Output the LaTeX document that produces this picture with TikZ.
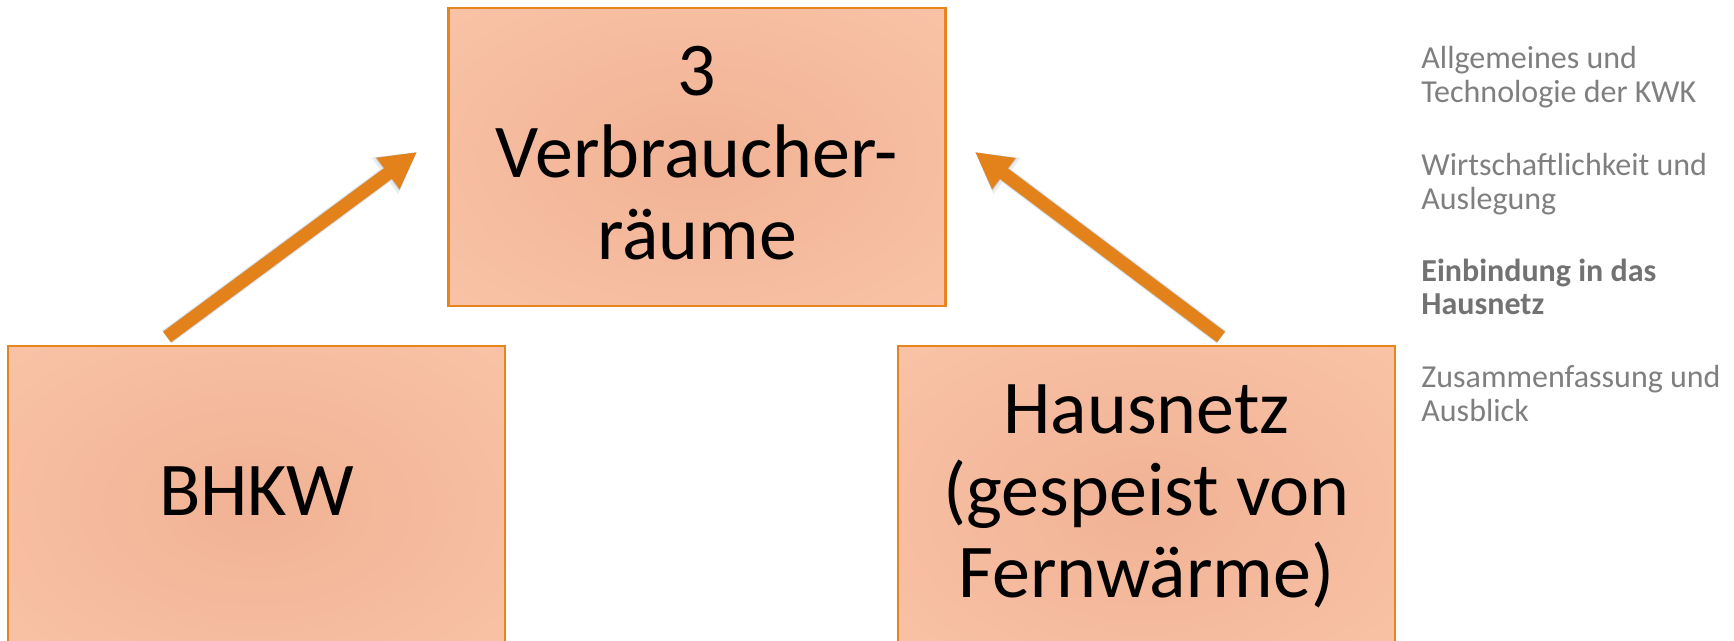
\documentclass[tikz,border=0pt]{standalone}
\usepackage{fontspec}
\setmainfont{Carlito}
\usetikzlibrary{arrows.meta}

\definecolor{boxedge}{HTML}{E6841F}
\definecolor{boxin}{HTML}{F1B294}
\definecolor{boxout}{HTML}{FAC5A9}
\definecolor{arrowc}{HTML}{E3821A}
\definecolor{navgray}{HTML}{7F7F7F}

% soft glow from the centre of a box towards its rim
\pgfdeclareradialshading{boxglow}{\pgfpoint{0bp}{0bp}}{%
  color(0bp)=(boxin); color(40bp)=(boxout); color(80bp)=(boxout)}

\begin{document}
\begin{tikzpicture}[x=0.5pt,y=-0.5pt,
  box/.style={draw=boxedge, line width=1.25pt, shading=boxglow,
              inner sep=0pt, minimum width=248.5pt},
  bigtext/.style={font=\fontsize{38pt}{41pt}\selectfont, align=center, inner sep=0pt,
                  text=black, anchor=base},
  navtext/.style={font=\fontsize{16pt}{17pt}\selectfont, align=left, text=navgray,
                  inner sep=0pt, anchor=base west},
  flow/.style={draw=arrowc, line width=6.5pt, -{Triangle[length=18pt,width=18pt]}},
  flowshade/.style={draw=black, line width=7pt, -{Triangle[length=18.5pt,width=19pt]}}
]
\useasboundingbox (0,0) rectangle (1734,641);
\clip (0,0) rectangle (1734,641);

% boxes
\node[box, minimum height=149pt] (cons) at (697,157) {};
\node[box, minimum height=160pt, anchor=north] (bhkw) at (256.5,345) {};
\node[box, minimum height=160pt, anchor=north] (netz) at (1146.5,345) {};

% box labels (placed by the baseline of their last line)
\node[bigtext] (consT) at (697,260) {3\\Verbraucher-\\räume};
\node[bigtext] (bhkwT) at (256.5,515) {BHKW};
\node[bigtext] (netzT) at (1146.5,597) {Hausnetz\\(gespeist von\\Fernwärme)};

% arrow end points
\coordinate (a1s) at (167,337);
\coordinate (a1e) at (417,152);
\coordinate (a2s) at (1221,337);
\coordinate (a2e) at (975,152);

% soft drop shadows of the arrows
\begin{scope}[transparency group, opacity=0.08, shift={(5,5)}]
  \draw[flowshade, line width=8pt, -{Triangle[length=20pt,width=21pt]}] (a1s) -- (a1e);
  \draw[flowshade, line width=8pt, -{Triangle[length=20pt,width=21pt]}] (a2s) -- (a2e);
\end{scope}
\begin{scope}[transparency group, opacity=0.18, shift={(3.5,3.5)}]
  \draw[flowshade] (a1s) -- (a1e);
  \draw[flowshade] (a2s) -- (a2e);
\end{scope}

% arrows
\draw[flow] (a1s) -- (a1e);
\draw[flow] (a2s) -- (a2e);

% navigation column
\node[navtext] (nav1) at (1421,103) {Allgemeines und\\Technologie der KWK};
\node[navtext] (nav2) at (1421,210) {Wirtschaftlichkeit und\\Auslegung};
\node[navtext, font=\fontsize{16pt}{17pt}\selectfont\bfseries, text=navgray!90!black] (nav3) at (1421,315) {Einbindung in das\\Hausnetz};
\node[navtext] (nav4) at (1421,422) {Zusammenfassung und\\Ausblick};
\end{tikzpicture}
\end{document}
